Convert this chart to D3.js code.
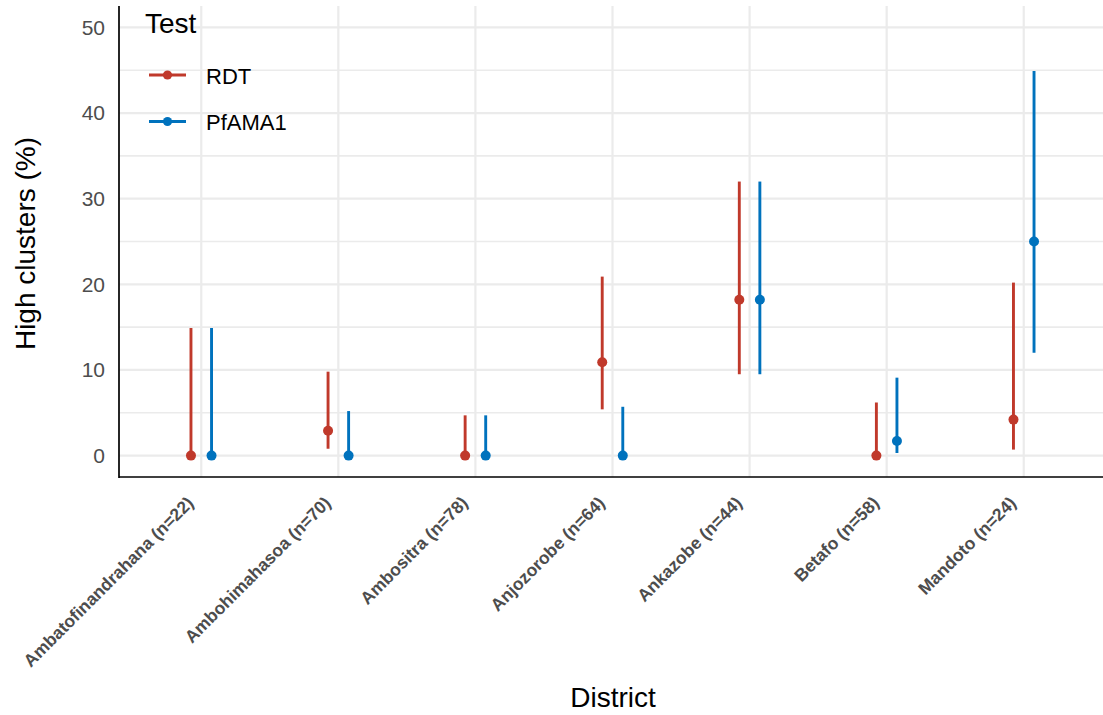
<!DOCTYPE html>
<html>
<head>
<meta charset="utf-8">
<script src="https://cdn.jsdelivr.net/npm/d3@7"></script>
<style>
  body { margin: 0; background: #fff; }
  svg { display: block; font-family: "Liberation Sans", Arial, Helvetica, sans-serif; }
</style>
</head>
<body>
<svg id="chart" width="1103" height="715"></svg>
<script>
// Districts (with number of clusters) and the two diagnostic tests
const districts = [
  "Ambatofinandrahana (n=22)",
  "Ambohimahasoa (n=70)",
  "Ambositra (n=78)",
  "Anjozorobe (n=64)",
  "Ankazobe (n=44)",
  "Betafo (n=58)",
  "Mandoto (n=24)"
];
const tests = ["RDT", "PfAMA1"];
const testColors = ["#C0392B", "#0072BD"];

// Percentage of high clusters with 95% interval, per district
const rdtEst   = [0.0, 2.9, 0.0, 10.9, 18.2, 0.0, 4.2];
const rdtLow   = [0.0, 0.8, 0.0, 5.4, 9.5, 0.0, 0.7];
const rdtHigh  = [14.9, 9.8, 4.7, 20.9, 32.0, 6.2, 20.2];
const amaEst   = [0.0, 0.0, 0.0, 0.0, 18.2, 1.7, 25.0];
const amaLow   = [0.0, 0.0, 0.0, 0.0, 9.5, 0.3, 12.0];
const amaHigh  = [14.9, 5.2, 4.7, 5.7, 32.0, 9.1, 44.9];

const yTicks = [0, 10, 20, 30, 40, 50];
const yMinor = [5, 15, 25, 35, 45];

const rows = [];
districts.forEach((d, i) => {
  rows.push({ district: d, test: tests[0], est: rdtEst[i], lo: rdtLow[i], hi: rdtHigh[i] });
  rows.push({ district: d, test: tests[1], est: amaEst[i], lo: amaLow[i], hi: amaHigh[i] });
});

const svg = d3.select("#chart");
const plotLeft = 119, plotRight = 1106, plotTop = 6, plotBottom = 477;

const x = d3.scalePoint().domain(districts).range([plotLeft, plotRight]).padding(0.6);
const step = x.step();
const dodge = d3.scalePoint().domain(tests).range([-0.075 * step, 0.075 * step]);
const y = d3.scaleLinear().domain([-2.5, 52.5]).range([plotBottom, plotTop]);
const color = d3.scaleOrdinal().domain(tests).range(testColors);

// Grid
const grid = svg.append("g");
grid.selectAll("line.minor").data(yMinor).join("line")
  .attr("x1", plotLeft).attr("x2", 1103)
  .attr("y1", d => y(d)).attr("y2", d => y(d))
  .attr("stroke", "#ebebeb").attr("stroke-width", 1.6);
grid.selectAll("line.major").data(yTicks).join("line")
  .attr("x1", plotLeft).attr("x2", 1103)
  .attr("y1", d => y(d)).attr("y2", d => y(d))
  .attr("stroke", "#ebebeb").attr("stroke-width", 2.2);
grid.selectAll("line.vx").data(districts).join("line")
  .attr("x1", d => x(d)).attr("x2", d => x(d))
  .attr("y1", plotTop).attr("y2", plotBottom)
  .attr("stroke", "#ebebeb").attr("stroke-width", 2.2);

// Intervals and point estimates
const marks = svg.append("g");
marks.selectAll("line.ci").data(rows).join("line")
  .attr("x1", d => x(d.district) + dodge(d.test))
  .attr("x2", d => x(d.district) + dodge(d.test))
  .attr("y1", d => y(d.lo)).attr("y2", d => y(d.hi))
  .attr("stroke", d => color(d.test)).attr("stroke-width", 2.9);
marks.selectAll("circle").data(rows).join("circle")
  .attr("cx", d => x(d.district) + dodge(d.test))
  .attr("cy", d => y(d.est))
  .attr("r", 5)
  .attr("fill", d => color(d.test));

// Axes
const yAxis = d3.axisLeft(y).tickValues(yTicks).tickSize(0).tickPadding(14);
const gy = svg.append("g").attr("transform", `translate(${plotLeft},0)`).call(yAxis);
gy.select(".domain").remove();
gy.selectAll("text").attr("font-size", 21).attr("fill", "#4d4d4d")
  .attr("font-family", "Liberation Sans, Arial, sans-serif");

const xAxis = d3.axisBottom(x).tickSize(0).tickPadding(0);
const gx = svg.append("g").attr("transform", `translate(0,${plotBottom})`).call(xAxis);
gx.select(".domain").remove();
gx.selectAll("text")
  .attr("font-size", 17.5).attr("font-weight", "bold").attr("fill", "#4d4d4d")
  .attr("font-family", "Liberation Sans, Arial, sans-serif")
  .attr("text-anchor", "end")
  .attr("dy", null).attr("y", 0)
  .attr("transform", "translate(-7,27) rotate(-45)");

svg.append("line").attr("x1", plotLeft).attr("x2", plotLeft).attr("y1", plotTop).attr("y2", plotBottom + 1)
  .attr("stroke", "#000").attr("stroke-width", 1.7);
svg.append("line").attr("x1", plotLeft).attr("x2", 1103).attr("y1", plotBottom).attr("y2", plotBottom)
  .attr("stroke", "#000").attr("stroke-width", 1.7);

// Axis titles
svg.append("text").attr("x", 613).attr("y", 707).attr("text-anchor", "middle")
  .attr("font-size", 28).attr("fill", "#000").text("District");
svg.append("text").attr("transform", `translate(35,243.5) rotate(-90)`)
  .attr("text-anchor", "middle").attr("font-size", 28).attr("fill", "#000")
  .text("High clusters (%)");

// Legend
const legend = svg.append("g");
legend.append("text").attr("x", 145).attr("y", 33).attr("font-size", 28).attr("fill", "#000").text("Test");
tests.forEach((t, i) => {
  const ly = 75 + i * 46.5;
  legend.append("line").attr("x1", 149).attr("x2", 186).attr("y1", ly).attr("y2", ly)
    .attr("stroke", color(t)).attr("stroke-width", 2.8);
  legend.append("circle").attr("cx", 167.5).attr("cy", ly).attr("r", 4.6).attr("fill", color(t));
  legend.append("text").attr("x", 206).attr("y", ly + 8.5).attr("font-size", 22).attr("fill", "#000").text(t);
});
</script>
</body>
</html>
